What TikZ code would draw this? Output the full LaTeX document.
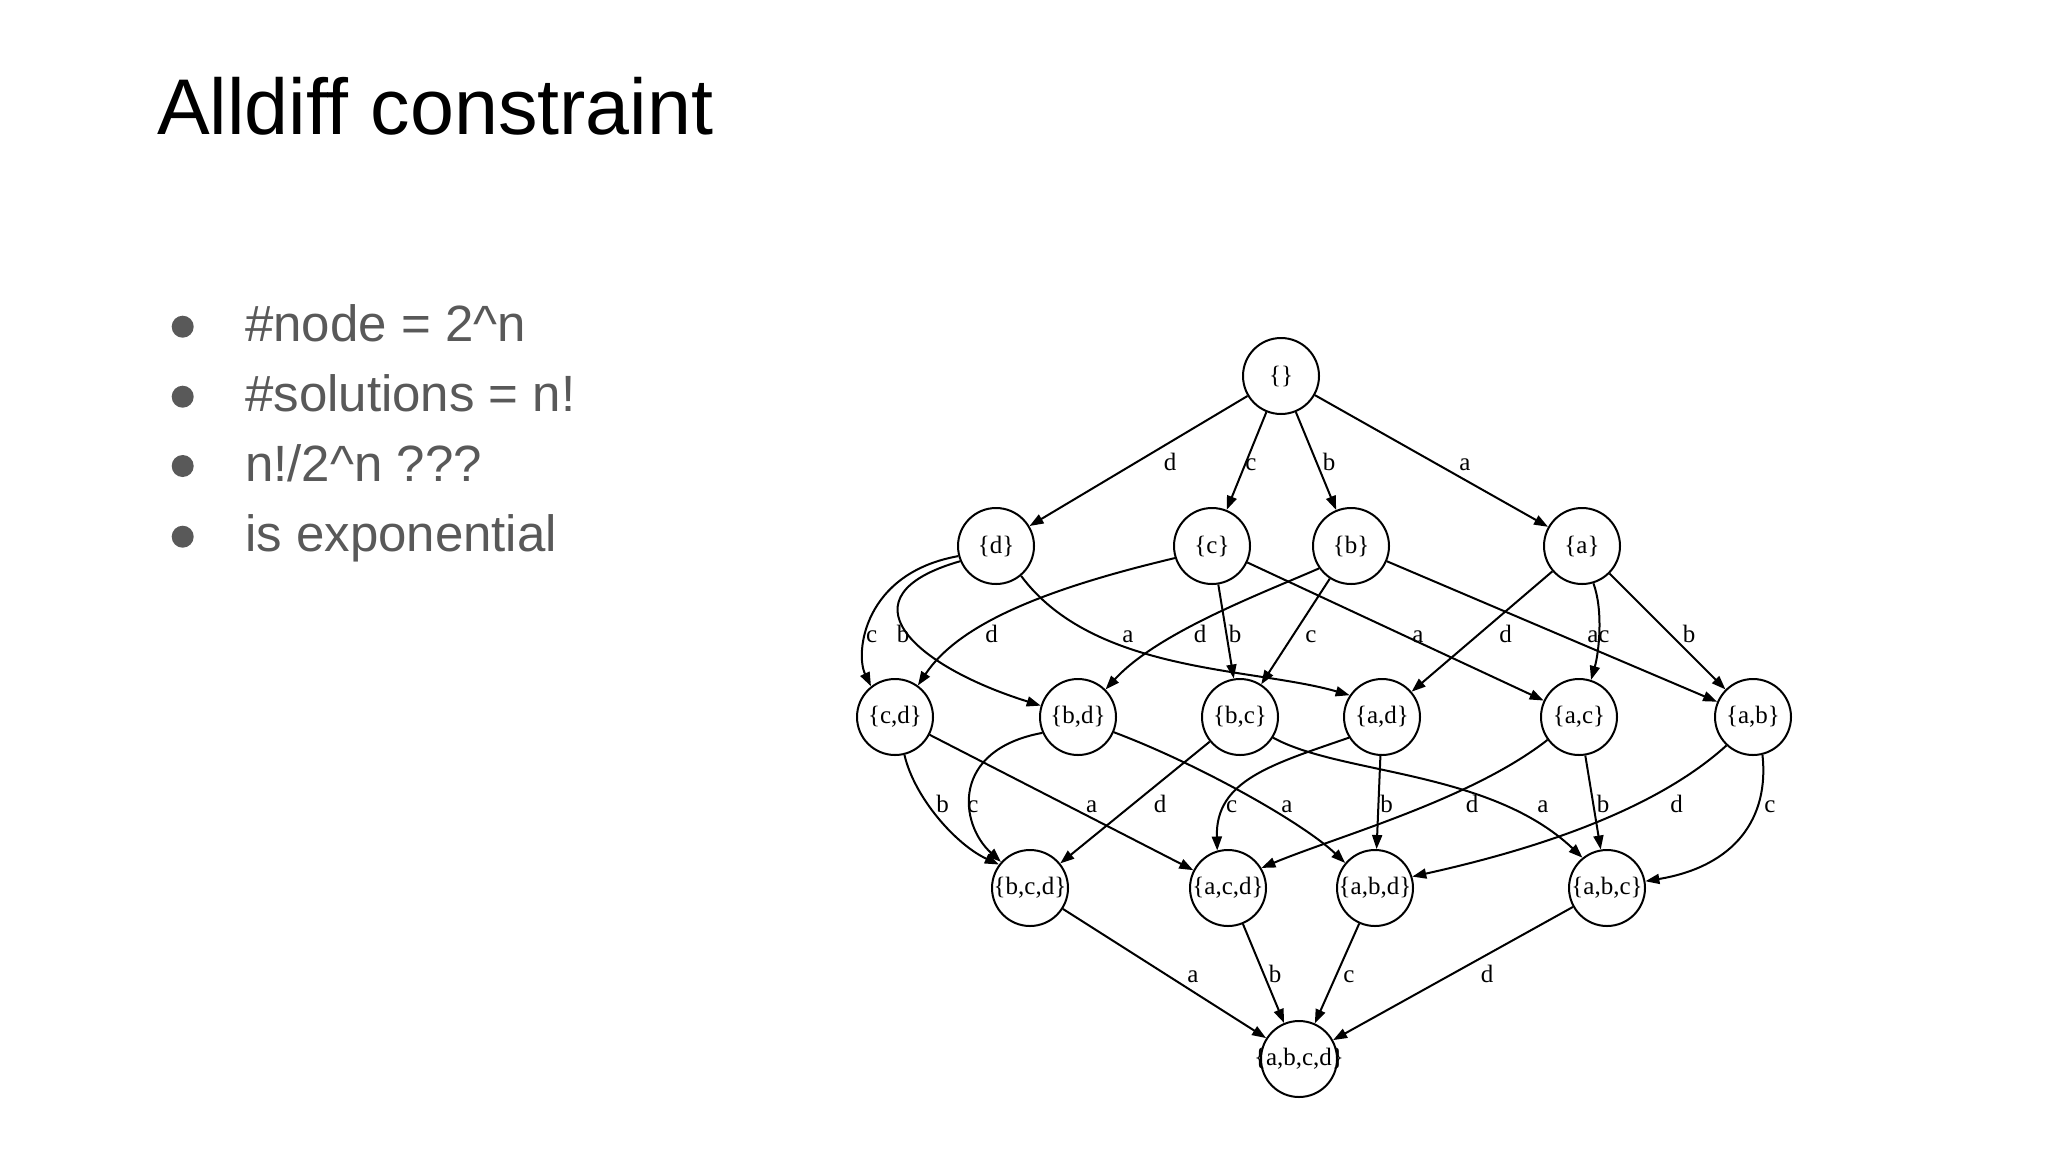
\documentclass[tikz,border=0pt]{standalone}
\usepackage{fontspec}
\setmainfont{Liberation Serif}
\newfontfamily\sansf[Ligatures=NoCommon]{Liberation Sans}
\newfontfamily\gvfont{Liberation Serif}
\usetikzlibrary{arrows.meta}
\definecolor{bodygray}{HTML}{595959}
\newcommand\gvf{\gvfont\fontsize{25}{30}\selectfont}
\newcommand\setlbl[1]{\makebox[0pt]{#1}}
\begin{document}
\begin{tikzpicture}[x=1pt,y=1pt,
  st/.style={circle, draw, line width=2pt, minimum size=76pt, inner sep=0pt, font=\gvf},
  edge/.style={line width=2pt, -{Triangle[length=14pt,width=10pt]}},
  lab/.style={font=\gvf, anchor=base, inner sep=0pt},
  bul/.style={circle, fill=bodygray, minimum size=22pt, inner sep=0pt},
  btxt/.style={font=\sansf\fontsize{51}{60}\selectfont, text=bodygray, anchor=base west, inner sep=0pt}]
\useasboundingbox (0,0) rectangle (2048,-1152);
\fill[white] (0,0) rectangle (2048,-1152);

% title and bullets
\node[font=\sansf\fontsize{79}{90}\selectfont, anchor=base west, inner sep=0pt] (title) at (157,-134) {Alldiff constraint};
\node[bul] (b1) at (182.7,-326.7) {};
\node[bul] (b2) at (182.7,-396.7) {};
\node[bul] (b3) at (182.7,-466.0) {};
\node[bul] (b4) at (182.7,-536.7) {};
\node[btxt] (t1) at (245,-341.7) {\#node = 2\textasciicircum n};
\node[btxt] (t2) at (245,-411.7) {\#solutions = n!};
\node[btxt] (t3) at (245,-481.0) {n!/2\textasciicircum n ???};
\node[btxt] (t4) at (245,-551.7) {is exponential};

% graph nodes
\node[st] (E)    at (1281,-376) {\setlbl{\{\}}};
\node[st] (D)    at (996,-546)  {\setlbl{\{d\}}};
\node[st] (C)    at (1212,-546) {\setlbl{\{c\}}};
\node[st] (B)    at (1351,-546) {\setlbl{\{b\}}};
\node[st] (A)    at (1582,-546) {\setlbl{\{a\}}};
\node[st] (CD)   at (895,-717)  {\setlbl{\{c,d\}}};
\node[st] (BD)   at (1078,-717) {\setlbl{\{b,d\}}};
\node[st] (BC)   at (1240,-717) {\setlbl{\{b,c\}}};
\node[st] (AD)   at (1382,-717) {\setlbl{\{a,d\}}};
\node[st] (AC)   at (1579,-717) {\setlbl{\{a,c\}}};
\node[st] (AB)   at (1753,-717) {\setlbl{\{a,b\}}};
\node[st] (BCD)  at (1030,-888) {\setlbl{\{b,c,d\}}};
\node[st] (ACD)  at (1228,-888) {\setlbl{\{a,c,d\}}};
\node[st] (ABD)  at (1375,-888) {\setlbl{\{a,b,d\}}};
\node[st] (ABC)  at (1607,-888) {\setlbl{\{a,b,c\}}};
\node[st] (ABCD) at (1299,-1059) {\setlbl{\{a,b,c,d\}}};

% row 0 -> 1
\draw[edge] (E) -- (D);
\draw[edge] (E) -- (C);
\draw[edge] (E) -- (B);
\draw[edge] (E) -- (A);

% row 1 -> 2
\draw[edge] (D.195) .. controls +(-95,-17) and +(-16,33) .. (CD.128);
\draw[edge] (D.203) .. controls +(-122,-35) and +(-128,40) .. (BD.163);
\draw[edge] (D.310) .. controls +(73,-98) and +(-97,28) .. (AD.146);
\draw[edge] (C.198) .. controls +(-135,-32) and +(40,60) .. (CD.54);
\draw[edge] (C) -- (BC);
\draw[edge] (C) -- (AC);
\draw[edge] (B.215) .. controls +(-57,-25) and +(52,57) .. (BD.45);
\draw[edge] (B) -- (BC);
\draw[edge] (B) -- (AB);
\draw[edge] (A) -- (AD);
\draw[edge] (A.287) .. controls +(10,-27) and +(8,28) .. (AC.72);
\draw[edge] (A) -- (AB);

% row 2 -> 3
\draw[edge] (CD.284) .. controls +(10,-43) and +(-43,20) .. (BCD.143);
\draw[edge] (CD) -- (ACD);
\draw[edge] (BD.204) .. controls +(-92,-17) and +(-42,38) .. (BCD.138);
\draw[edge] (BD.337) .. controls +(85,-32) and +(-42,40) .. (ABD.140);
\draw[edge] (BC) -- (BCD);
\draw[edge] (BC.328) .. controls +(67,-37) and +(-93,88) .. (ABC.129);
\draw[edge] (AD.212) .. controls +(-78,-27) and +(-2,70) .. (ACD.106);
\draw[edge] (AD) -- (ABD);
\draw[edge] (AC.216) .. controls +(-77,-60) and +(77,32) .. (ACD.31);
\draw[edge] (AC) -- (ABC);
\draw[edge] (AB.227) .. controls +(-75,-68) and +(113,25) .. (ABD.17);
\draw[edge] (AB.284) .. controls +(7,-63) and +(90,15) .. (ABC.10);

% row 3 -> 4
\draw[edge] (BCD) -- (ABCD);
\draw[edge] (ACD) -- (ABCD);
\draw[edge] (ABD) -- (ABCD);
\draw[edge] (ABC) -- (ABCD);

% edge labels
\node[lab] (l1) at (1170,-470) {d};
\node[lab] (l2) at (1251,-470) {c};
\node[lab] (l3) at (1329,-470) {b};
\node[lab] (l4) at (1465,-470) {a};

\node[lab] (l5)  at (871.7,-642) {c};
\node[lab] (l6)  at (903,-642)   {b};
\node[lab] (l7)  at (991.7,-642) {d};
\node[lab] (l8)  at (1128,-642)  {a};
\node[lab] (l9)  at (1200,-642)  {d};
\node[lab] (l10) at (1235,-642)  {b};
\node[lab] (l11) at (1311,-642)  {c};
\node[lab] (l12) at (1418,-642)  {a};
\node[lab] (l13) at (1505.7,-642) {d};
\node[lab] (l14) at (1593,-642)  {a};
\node[lab] (l15) at (1604,-642)  {c};
\node[lab] (l16) at (1689,-642)  {b};

\node[lab] (l17) at (942.7,-812) {b};
\node[lab] (l18) at (973,-812)   {c};
\node[lab] (l19) at (1091.7,-812) {a};
\node[lab] (l20) at (1160,-812)  {d};
\node[lab] (l21) at (1231.7,-812) {c};
\node[lab] (l22) at (1287,-812)  {a};
\node[lab] (l23) at (1386.7,-812) {b};
\node[lab] (l24) at (1472,-812)  {d};
\node[lab] (l25) at (1543,-812)  {a};
\node[lab] (l26) at (1603,-812)  {b};
\node[lab] (l27) at (1676.7,-812) {d};
\node[lab] (l28) at (1770,-812)  {c};

\node[lab] (l29) at (1193,-982) {a};
\node[lab] (l30) at (1275,-982) {b};
\node[lab] (l31) at (1349,-982) {c};
\node[lab] (l32) at (1487,-982) {d};
\end{tikzpicture}
\end{document}
